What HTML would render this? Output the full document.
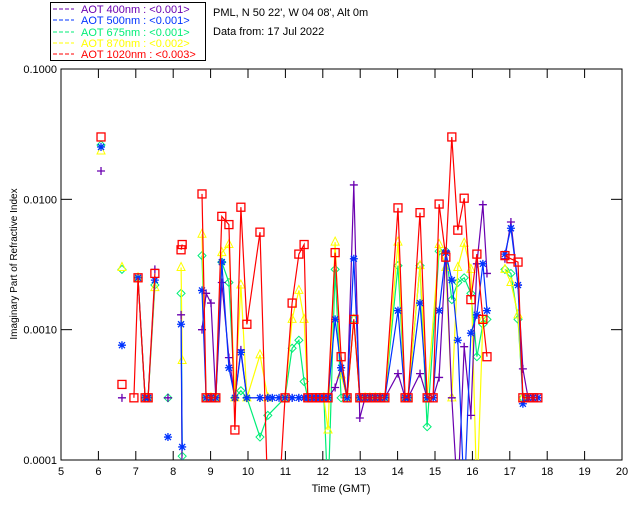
<!DOCTYPE html>
<html><head><meta charset="utf-8"><style>
body{margin:0;background:#fff;}
svg{display:block;font-family:"Liberation Sans",sans-serif;}
</style></head><body>
<svg id="chart" width="640" height="512" viewBox="0 0 640 512" xmlns="http://www.w3.org/2000/svg">
<rect width="640" height="512" fill="#fff"/>
<g>
<rect x="50.5" y="2.5" width="155" height="58" fill="#fff" stroke="#000"/>
<g font-size="11">
<line x1="53" y1="9" x2="74" y2="9" stroke="#6a00b0" stroke-dasharray="4,2"/><text x="81" y="13" fill="#6a00b0">AOT  400nm : &lt;0.001&gt;</text>
<line x1="53" y1="20" x2="74" y2="20" stroke="#0033ff" stroke-dasharray="4,2"/><text x="81" y="24" fill="#0033ff">AOT  500nm : &lt;0.001&gt;</text>
<line x1="53" y1="32" x2="74" y2="32" stroke="#00ee77" stroke-dasharray="4,2"/><text x="81" y="36" fill="#00ee77">AOT  675nm : &lt;0.001&gt;</text>
<line x1="53" y1="43" x2="74" y2="43" stroke="#ffff00" stroke-dasharray="4,2"/><text x="81" y="47" fill="#ffff00">AOT  870nm : &lt;0.002&gt;</text>
<line x1="53" y1="54" x2="74" y2="54" stroke="#ff0000" stroke-dasharray="4,2"/><text x="81" y="58" fill="#ff0000">AOT 1020nm : &lt;0.003&gt;</text>
</g></g>
<text x="213" y="16" font-size="11">PML, N 50 22', W 04 08', Alt 0m</text>
<text x="213" y="35" font-size="11">Data from: 17 Jul 2022</text>
<text transform="translate(17,264) rotate(-90)" text-anchor="middle" font-size="10">Imaginary Part of Refractive Index</text>
<text x="341" y="492" text-anchor="middle" font-size="11">Time (GMT)</text>
<g id="axes"></g>
<g id="series"></g>
</svg>
<script>
const xTicks=[5,6,7,8,9,10,11,12,13,14,15,16,17,18,19,20];
const yTicks=[0.1,0.01,0.001,0.0001];
const yTickLabels=["0.1000","0.0100","0.0010","0.0001"];
const seriesNames=["400nm","500nm","675nm","870nm","1020nm"];
const seriesColors=["#6a00b0","#0033ff","#00ee77","#ffff00","#ff0000"];
const FL=0.0003, LO=0.00005;
const t400=[6.07,null,6.63,null,7.51,null,7.86,null,8.21,8.24,null,8.77,8.88,9.01,9.14,9.30,9.49,9.65,9.81,9.97,10.32,10.53,10.99,11.18,11.36,11.50,11.60,11.82,12.03,12.14,12.33,12.49,12.65,12.83,12.99,13.13,13.26,13.40,13.53,13.66,14.01,14.20,14.28,14.60,14.79,14.95,15.11,15.29,15.45,15.61,15.78,15.96,16.12,16.28,16.39,null,16.87,17.03,17.22,17.35,17.49,17.62,17.75];
const v400=[0.0165,null,FL,null,0.0029,null,FL,null,0.0013,LO,null,0.0010,0.0019,0.0016,FL,0.0023,0.00061,FL,0.0007,FL,FL,FL,FL,FL,FL,FL,FL,FL,FL,FL,0.00036,0.00051,FL,0.0129,0.00021,FL,FL,FL,FL,FL,0.00046,FL,FL,0.00046,FL,FL,0.00043,0.004,FL,LO,0.00074,0.00022,0.0032,0.0091,0.0027,null,0.0035,0.0067,0.0022,0.0005,FL,FL,FL];
const t500=[6.07,null,6.63,null,7.06,7.25,7.33,7.51,null,7.86,null,8.21,8.24,null,8.77,8.88,9.01,9.14,9.30,9.49,9.65,9.81,9.97,10.32,10.53,10.65,10.83,10.99,11.18,11.36,11.50,11.60,11.72,11.82,11.92,12.03,12.14,12.33,12.49,12.65,12.83,12.99,13.13,13.26,13.40,13.53,13.66,14.01,14.20,14.28,14.60,14.79,14.95,15.11,15.29,15.45,15.61,15.78,15.96,16.12,16.28,16.39,null,16.87,17.03,17.22,17.35,17.49,17.62,17.75];
const v500=[0.0252,null,0.00076,null,0.0025,FL,FL,0.0024,null,0.00015,null,0.0011,0.000126,null,0.0020,FL,FL,FL,0.0033,0.00051,FL,0.00067,FL,FL,FL,FL,FL,FL,FL,FL,FL,FL,FL,FL,FL,FL,FL,0.0012,0.00051,FL,0.0035,FL,FL,FL,FL,FL,FL,0.0014,FL,FL,0.0016,FL,FL,0.0014,0.0039,0.0024,0.00083,LO,0.00094,0.0013,0.0032,0.0014,null,0.0038,0.0060,0.0022,0.00027,FL,FL,FL];
const t675=[6.07,null,6.63,null,7.06,7.25,7.33,7.51,null,7.86,null,8.21,8.24,null,8.77,8.88,9.01,9.14,9.30,9.49,9.65,9.81,9.97,10.32,10.53,10.99,11.18,11.36,11.50,11.60,11.82,12.03,12.14,12.33,12.49,12.65,12.83,12.99,13.13,13.26,13.40,13.53,13.66,14.01,14.20,14.28,14.60,14.79,15.11,15.29,15.45,15.61,15.78,15.96,16.12,16.28,16.39,null,16.87,17.03,17.22,17.35];
const v675=[0.0261,null,0.0029,null,0.0025,FL,FL,0.0022,null,FL,null,0.0019,0.000107,null,0.0037,FL,FL,FL,0.0033,0.0023,FL,0.00034,FL,0.00015,0.00022,FL,0.00072,0.00083,0.0004,FL,FL,FL,LO,0.0029,FL,FL,0.0012,FL,FL,FL,FL,FL,FL,0.0031,FL,FL,0.0031,0.00018,0.004,0.004,0.0017,0.0023,0.0025,0.0019,0.00062,0.0011,0.0012,null,0.0029,0.0027,0.0012,FL];
const t870=[6.07,null,6.63,null,7.06,7.25,7.33,7.51,null,8.21,8.24,null,8.77,8.88,9.01,9.14,9.30,9.49,9.65,9.81,9.97,10.32,10.53,10.99,11.18,11.36,11.50,11.60,12.03,12.14,12.33,12.49,12.65,12.83,12.99,13.13,13.26,13.40,13.53,13.66,14.01,14.20,14.28,14.60,14.79,15.11,15.29,15.45,15.61,15.78,15.96,16.12,16.28,null,16.87,17.03,17.22,17.35];
const v870=[0.0235,null,0.0030,null,0.0025,FL,FL,0.0021,null,0.0030,0.00058,null,0.0054,FL,FL,FL,0.0039,0.0045,FL,0.0022,FL,0.00064,FL,FL,0.0012,0.0020,0.0012,FL,FL,0.00017,0.0047,0.00045,FL,0.0012,FL,FL,FL,FL,FL,FL,0.0047,FL,FL,0.0031,FL,0.0045,0.0030,FL,0.0030,0.0046,0.0029,LO,0.0012,null,0.0029,0.0023,0.0013,FL];
const t1020=[6.07,null,6.63,null,6.95,7.06,7.25,7.33,7.51,null,8.21,8.24,null,8.77,8.88,9.01,9.14,9.30,9.49,9.65,9.81,9.97,10.32,10.53,10.83,10.99,11.18,11.36,11.50,11.60,11.72,11.82,11.92,12.03,12.14,12.33,12.49,12.65,12.83,12.99,13.13,13.26,13.40,13.53,13.66,14.01,14.20,14.28,14.60,14.79,14.95,15.11,15.29,15.45,15.61,15.78,15.96,16.12,16.28,16.39,null,16.87,17.03,17.22,17.35,17.49,17.62,17.75];
const v1020=[0.0301,null,0.00038,null,FL,0.0025,FL,FL,0.0027,null,0.0041,0.0045,null,0.011,FL,FL,FL,0.0074,0.0064,0.00017,0.0087,0.0011,0.0056,LO,LO,FL,0.0016,0.0038,0.0045,FL,FL,FL,FL,FL,FL,0.0039,0.00062,FL,0.0012,FL,FL,FL,FL,FL,FL,0.0086,FL,FL,0.0079,FL,FL,0.0092,0.0036,0.0301,0.0058,0.0102,0.0017,0.0038,0.0012,0.00062,null,0.0037,0.0035,0.0033,FL,FL,FL,FL];
const allT=[t400,t500,t675,t870,t1020], allV=[v400,v500,v675,v870,v1020];
const X0=61,X1=622,Y0=460,Y1=69;
function xs(t){return X0+(t-5)/15*(X1-X0);}
function ys(v){return Y0-(Math.log10(v)+4)/3*(Y0-Y1);}
const NS="http://www.w3.org/2000/svg";
function mk(tag,attrs,parent){const e=document.createElementNS(NS,tag);for(const k in attrs)e.setAttribute(k,attrs[k]);parent.appendChild(e);return e;}
const axes=document.getElementById('axes');
const frame=mk('rect',{x:X0,y:Y1,width:X1-X0,height:Y0-Y1,fill:'none',stroke:'#000'},axes);


xTicks.forEach(t=>{
 const x=xs(t);
 mk('line',{x1:x,y1:Y0,x2:x,y2:Y0-9,stroke:'#000'},axes);
 mk('line',{x1:x,y1:Y1,x2:x,y2:Y1+9,stroke:'#000'},axes);
 const tx=mk('text',{x:x,y:Y0+15,'text-anchor':'middle','font-size':11},axes);
 tx.textContent=t;
 
 
});
yTicks.forEach((v,i)=>{
 const y=ys(v);
 mk('line',{x1:X0,y1:y,x2:X0+11,y2:y,stroke:'#000'},axes);
 mk('line',{x1:X1,y1:y,x2:X1-11,y2:y,stroke:'#000'},axes);
 const tx=mk('text',{x:X0-4,y:y+4,'text-anchor':'end','font-size':11},axes);
 tx.textContent=yTickLabels[i];
 
 
});
const ser=document.getElementById('series');
const clip=mk('clipPath',{id:'pc'},ser);mk('rect',{x:X0,y:Y1,width:X1-X0,height:Y0-Y1},clip);
function marker(k,x,y,c,g){
 if(k===4){mk('rect',{x:x-4,y:y-4,width:8,height:8,fill:'none',stroke:c,'stroke-width':1.3},g);}
 else if(k===0){mk('path',{d:`M${x-4} ${y}H${x+4}M${x} ${y-4}V${y+4}`,stroke:c,'stroke-width':1.3},g);}
 else if(k===1){mk('path',{d:`M${x-4} ${y}H${x+4}M${x} ${y-4}V${y+4}M${x-3} ${y-3}L${x+3} ${y+3}M${x-3} ${y+3}L${x+3} ${y-3}`,stroke:c,'stroke-width':1.3},g);}
 else if(k===2){mk('path',{d:`M${x} ${y-4}L${x+4} ${y}L${x} ${y+4}L${x-4} ${y}Z`,fill:'none',stroke:c},g);}
 else {mk('path',{d:`M${x} ${y-5}L${x+4} ${y+3}L${x-4} ${y+3}Z`,fill:'none',stroke:c},g);}
}
[2,3,0,1,4].forEach(k=>{
 const g=mk('g',{'clip-path':'url(#pc)'},ser);
 
 
 const T=allT[k],V=allV[k],c=seriesColors[k];
 let d='',pen=false;
 for(let i=0;i<T.length;i++){
  if(T[i]===null){pen=false;continue;}
  d+=(pen?'L':'M')+xs(T[i]).toFixed(1)+' '+ys(V[i]).toFixed(1);pen=true;
 }
 const p=mk('path',{d:d,fill:'none',stroke:c,'stroke-width':1.2},g);
 
 
 for(let i=0;i<T.length;i++){if(T[i]!==null&&V[i]>=0.0001)marker(k,xs(T[i]),ys(V[i]),c,g);}
});
</script>
</body></html>
